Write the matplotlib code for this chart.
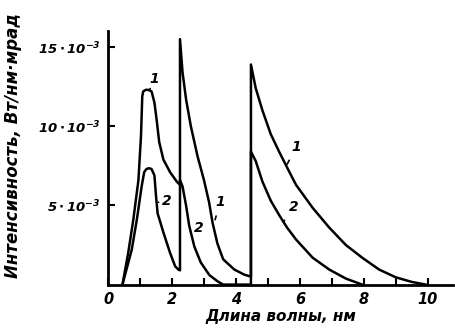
import numpy as np
import matplotlib.pyplot as plt

# wavelength, nm / intensity in units of 1e-3 W/(nm*mrad)
x1 = [0.45, 0.63, 0.79, 0.95, 1.03, 1.07, 1.1, 1.18, 1.26, 1.36, 1.45, 1.52, 1.6, 1.73, 1.94, 2.15, 2.25,
      2.25, 2.33, 2.44, 2.59, 2.8, 3.0, 3.16, 3.27, 3.42, 3.6, 3.95, 4.26, 4.47,
      4.47, 4.62, 4.83, 5.09, 5.35, 5.6, 5.88, 6.4, 6.92, 7.44, 7.95, 8.48, 9.0, 9.5, 9.94]
y1 = [0.0, 2.0, 4.1, 6.6, 9.4, 11.9, 12.2, 12.3, 12.3, 12.2, 11.5, 10.4, 9.0, 7.9, 7.1, 6.5, 6.3,
      15.5, 13.4, 11.7, 10.0, 8.1, 6.6, 5.2, 3.9, 2.6, 1.6, 0.95, 0.63, 0.5,
      13.9, 12.4, 11.0, 9.5, 8.4, 7.4, 6.3, 4.85, 3.6, 2.5, 1.7, 0.95, 0.46, 0.17, 0.0]

x2 = [0.45, 0.74, 0.9, 1.05, 1.13, 1.2, 1.28, 1.36, 1.45, 1.5, 1.55, 1.73, 1.94, 2.1, 2.2, 2.25,
      2.25, 2.33, 2.44, 2.54, 2.7, 2.9, 3.17, 3.43, 3.6, 4.47,
      4.47, 4.62, 4.83, 5.09, 5.35, 5.6, 5.88, 6.4, 6.92, 7.44, 7.95]
y2 = [0.0, 2.2, 4.1, 6.2, 7.1, 7.3, 7.35, 7.3, 6.9, 5.6, 4.5, 3.3, 2.0, 1.15, 0.95, 0.9,
      6.6, 6.2, 5.0, 3.7, 2.4, 1.4, 0.6, 0.2, 0.0, 0.0,
      8.4, 7.8, 6.5, 5.3, 4.4, 3.6, 2.85, 1.7, 0.95, 0.38, 0.0]

xticks = [0, 2, 4, 6, 8, 10]
yticks = [5, 10, 15]
ylabels = [r'$5\cdot10^{-3}$', r'$10\cdot10^{-3}$', r'$15\cdot10^{-3}$']

plt.rcParams['mathtext.fontset'] = 'dejavusans'
plt.rcParams['mathtext.default'] = 'bfit'

fig = plt.figure(figsize=(4.56, 3.36), dpi=100)
ax = fig.add_axes([0.237, 0.153, 0.757, 0.754])

ax.plot(x1, y1, color='black', lw=1.8, solid_joinstyle='round')
ax.plot(x2, y2, color='black', lw=1.8, solid_joinstyle='round')

ax.set_xlim(0, 10.8)
ax.set_ylim(0, 16.0)
for s in ['top', 'right']:
    ax.spines[s].set_visible(False)
for s in ['left', 'bottom']:
    ax.spines[s].set_linewidth(2)

ax.set_xticks(xticks)
ax.set_xticklabels([str(t) for t in xticks], fontsize=10.5, fontweight='bold', fontstyle='italic')
ax.set_xticks(np.arange(1, 11, 1), minor=True)
ax.set_yticks(yticks)
ax.set_yticklabels(ylabels, fontsize=9.5)
ax.tick_params(direction='in', length=5, width=1.5, pad=5)
ax.tick_params(which='minor', direction='in', length=5, width=1.5)

ax.set_xlabel('Длина волны, нм', fontsize=11, fontweight='bold', fontstyle='italic', labelpad=2)
ax.set_ylabel('Интенсивность, Вт/нм·мрад', fontsize=12, fontweight='bold', fontstyle='italic')
ax.yaxis.set_label_coords(-0.25, 0.55)

lbl = dict(fontsize=10, fontweight='bold', fontstyle='italic', ha='center', va='center')
arr = dict(arrowstyle='-', color='black', lw=1.2, shrinkA=3, shrinkB=0)
ax.annotate('1', xy=(1.3, 12.3), xytext=(1.45, 13.0), arrowprops=arr, **lbl)
ax.annotate('2', xy=(1.58, 5.2), xytext=(1.82, 5.3), arrowprops=arr, **lbl)
ax.annotate('2', xy=(2.65, 2.7), xytext=(2.85, 3.6), arrowprops=arr, **lbl)
ax.annotate('1', xy=(3.35, 4.1), xytext=(3.5, 5.2), arrowprops=arr, **lbl)
ax.annotate('1', xy=(5.6, 7.6), xytext=(5.9, 8.7), arrowprops=arr, **lbl)
ax.annotate('2', xy=(5.5, 4.0), xytext=(5.8, 4.9), arrowprops=arr, **lbl)

fig.savefig('out.png', dpi=100)
